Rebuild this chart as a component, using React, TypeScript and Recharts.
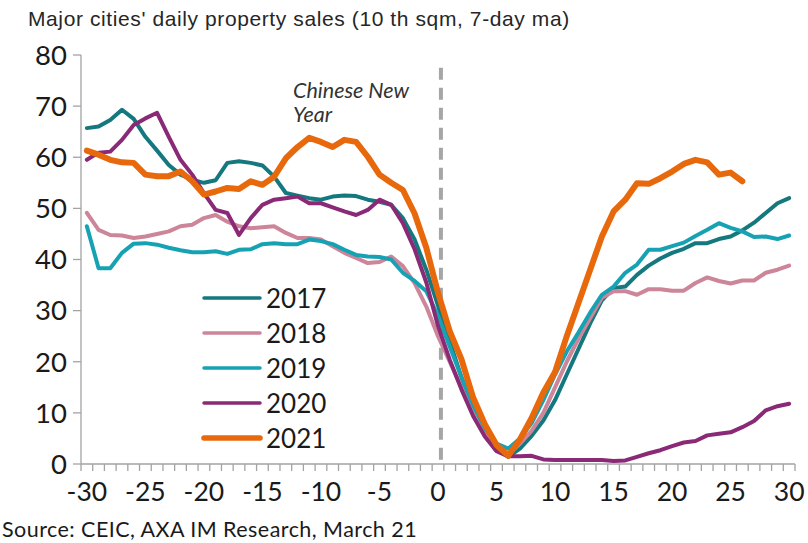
import React from 'react';
import { LineChart, Line, XAxis, YAxis, ReferenceLine, Legend } from 'recharts';

// days relative to Chinese New Year
const days: number[] = Array.from({ length: 61 }, (_, i) => i - 30);
const xTickLabels = [-30, -25, -20, -15, -10, -5, 0, 5, 10, 15, 20, 25, 30];
const yTicks = [0, 10, 20, 30, 40, 50, 60, 70, 80];

// 10 th sqm, 7-day ma, from day -30 to 30
const sales2017 = [
  65.7, 66, 67.3, 69.3, 67.5, 64, 61.3, 58.5, 56.6, 55.6, 55, 55.5, 58.9, 59.2, 58.9, 58.4,
  56.2, 53, 52.5, 52, 51.7, 52.3, 52.5, 52.4, 51.7, 51.3, 50.7, 48.1, 43.9, 38, 31,
  24, 17, 11, 6.5, 3, 1.4, 3, 5.5, 8.5, 12.5, 17.5, 22.5, 27.5, 32, 34.4,
  34.7, 37, 38.8, 40.2, 41.3, 42.1, 43.2, 43.2, 44, 44.5, 45.7, 47.2, 49.1, 51, 52,
];
const sales2018 = [
  49.1, 45.8, 44.8, 44.7, 44.2, 44.5, 45, 45.5, 46.5, 46.8, 48.1, 48.7, 47.4, 46.5, 46.1, 46.3,
  46.5, 45.2, 44.2, 44.2, 43.9, 42.6, 41.3, 40.3, 39.3, 39.5, 40.6, 38.7, 35.4, 30.8, 25,
  20, 15, 10.5, 6.2, 3.2, 1.8, 4, 6.5, 10, 15, 20, 24.5, 28.5, 32.5, 33.8,
  33.8, 33.1, 34.2, 34.2, 33.9, 33.9, 35.4, 36.5, 35.8, 35.3, 35.9, 35.9, 37.4, 38, 38.8,
];
const sales2019 = [
  46.5, 38.3, 38.3, 41.3, 43.1, 43.2, 42.9, 42.3, 41.8, 41.4, 41.4, 41.6, 41.1, 41.9, 42, 43,
  43.2, 43, 43, 43.9, 43.6, 43, 41.9, 40.9, 40.6, 40.5, 40, 37.4, 35.8, 33.8, 29,
  23, 17, 11.5, 7, 4, 3, 5, 8, 12.5, 17.5, 22, 25.7, 29.6, 33.1, 34.7,
  37.4, 39, 41.9, 41.9, 42.6, 43.3, 44.6, 45.8, 47.1, 46.2, 45.5, 44.4, 44.5, 44, 44.7,
];
const sales2020 = [
  59.5, 60.9, 61.1, 63.4, 66.3, 67.6, 68.7, 64, 59.5, 56.6, 53, 49.7, 49.1, 44.8, 48.1, 50.7,
  51.7, 52, 52.3, 51, 51, 50.2, 49.4, 48.7, 49.7, 51.7, 50.7, 47.1, 42, 35.5, 27,
  20.4, 14.6, 9.4, 5.4, 2.5, 1.5, 1.5, 1.6, 0.9, 0.8, 0.8, 0.8, 0.8, 0.8, 0.6,
  0.7, 1.4, 2.1, 2.7, 3.5, 4.2, 4.5, 5.6, 5.9, 6.2, 7.2, 8.4, 10.5, 11.3, 11.8,
];
// 2021 only runs to day 26
const sales2021 = [
  61.3, 60.5, 59.5, 59, 58.9, 56.6, 56.3, 56.3, 57.2, 55.3, 52.7, 53.3, 54, 53.8, 55.3, 54.6,
  56.2, 59.8, 62, 63.8, 63, 62, 63.4, 63, 60.1, 56.6, 55, 53.6, 49, 42.3, 33.5,
  26, 20.5, 13, 7.8, 3.7, 1.6, 4.8, 9, 14, 18, 25, 31.5, 38, 44.5, 49.4,
  51.7, 54.9, 54.8, 55.9, 57.2, 58.7, 59.5, 59, 56.6, 57, 55.3,
];

const series = [
  { key: '2017', values: sales2017, color: '#14787E', width: 4 },
  { key: '2018', values: sales2018, color: '#CC8599', width: 4 },
  { key: '2019', values: sales2019, color: '#17A2B4', width: 4 },
  { key: '2020', values: sales2020, color: '#8A2A76', width: 4 },
  { key: '2021', values: sales2021, color: '#E8680C', width: 6 },
];

const data = days.map((d, i) => {
  const row: Record<string, number | null> = { day: d };
  series.forEach((s) => {
    row[s.key] = i < s.values.length ? s.values[i] : null;
  });
  return row;
});

const minorTicks = Array.from({ length: 62 }, (_, i) => i - 30.5);
const axisGrey = '#A3A3A3';
const FONT = 'Lato, "Open Sans", sans-serif';

const XTick = (props: any) => {
  const { x, y, payload } = props;
  const v = payload.value;
  if (Number.isInteger(v)) {
    return (
      <text x={x} y={y + 37} textAnchor="middle" fontSize={26.5} fontFamily={FONT} fill="#1a1a1a">
        {v}
      </text>
    );
  }
  return <line x1={x} x2={x} y1={y} y2={y + 7} stroke={axisGrey} strokeWidth={1.3} />;
};

const LegendBox = (props: any) => {
  const { payload } = props;
  return (
    <div style={{ fontFamily: FONT }}>
      {(payload || []).map((p: any) => {
        const s = series.find((x) => x.key === p.value);
        return (
          <div key={p.value} style={{ display: 'flex', alignItems: 'center', height: 35.2 }}>
            <svg width={62} height={10}>
              <line x1={3} x2={59} y1={5} y2={5} stroke={p.color} strokeWidth={s ? s.width - 0.5 : 4} strokeLinecap="round" />
            </svg>
            <span style={{ marginLeft: 3, fontSize: 26, color: '#1a1a1a', lineHeight: 1 }}>{p.value}</span>
          </div>
        );
      })}
    </div>
  );
};

export default function App() {
  return (
    <div style={{ position: 'relative', width: 808, height: 543, background: '#fff', overflow: 'hidden' }}>
      <style>{'body{margin:0}'}</style>
      <div
        style={{
          position: 'absolute', left: 28, top: 8, fontFamily: '"Liberation Sans", Arial, sans-serif',
          fontSize: 21, letterSpacing: 0.6, color: '#262626', whiteSpace: 'nowrap', lineHeight: 1,
        }}
      >
        Major cities' daily property sales (10 th sqm, 7-day ma)
      </div>
      <LineChart width={808} height={543} data={data} margin={{ top: 55, right: 13, bottom: 0, left: 0 }}>
        <XAxis
          dataKey="day"
          type="number"
          domain={[-30.5, 30.5]}
          ticks={[...minorTicks, ...xTickLabels]}
          interval={0}
          tick={<XTick />}
          tickLine={false}
          tickSize={0}
          tickMargin={0}
          height={79}
          axisLine={{ stroke: axisGrey, strokeWidth: 1.3 }}
        />
        <YAxis
          domain={[0, 80]}
          ticks={yTicks}
          interval={0}
          width={81}
          tickSize={8}
          tickMargin={6}
          tickLine={{ stroke: axisGrey, strokeWidth: 1.3 }}
          axisLine={{ stroke: axisGrey, strokeWidth: 1.3 }}
          tick={{ fontSize: 27.5, fontFamily: FONT, fill: '#1a1a1a' }}
        />
        <ReferenceLine
          segment={[{ x: 0.25, y: 77.5 }, { x: 0.25, y: 0 }]}
          stroke="#A6A6A6"
          strokeWidth={4}
          strokeDasharray="12 8"
        />
        {series.map((s) => (
          <Line
            key={s.key}
            dataKey={s.key}
            name={s.key}
            stroke={s.color}
            strokeWidth={s.width}
            dot={false}
            strokeLinejoin="round"
            strokeLinecap="round"
            connectNulls={false}
            isAnimationActive={false}
          />
        ))}
        <text x={293} y={98} fontSize={21.5} fontStyle="italic" fontFamily={FONT} fill="#333">
          Chinese New
        </text>
        <text x={293} y={122} fontSize={21.5} fontStyle="italic" fontFamily={FONT} fill="#333">
          Year
        </text>
        <Legend
          layout="horizontal"
          verticalAlign="middle"
          align="center"
          content={<LegendBox />}
          wrapperStyle={{ left: 201, top: 280, width: 'auto' }}
        />
      </LineChart>
      <div
        style={{
          position: 'absolute', left: 2, top: 519, fontFamily: FONT, fontSize: 21.5, letterSpacing: 0.45,
          color: '#1a1a1a', whiteSpace: 'nowrap', lineHeight: 1,
        }}
      >
        Source: CEIC, AXA IM Research, March 21
      </div>
    </div>
  );
}
